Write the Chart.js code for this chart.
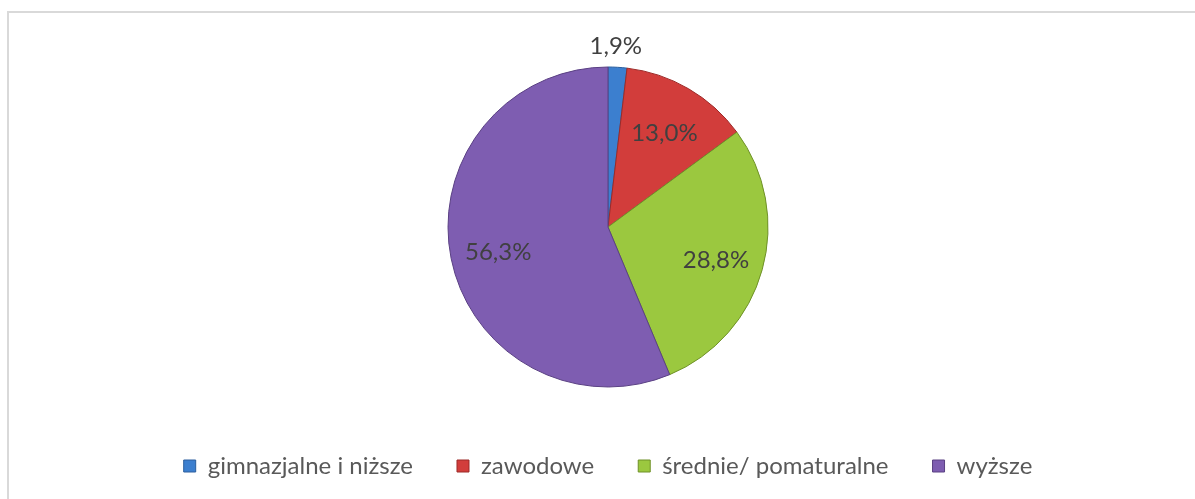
<!DOCTYPE html>
<html>
<head>
<meta charset="utf-8">
<script src="https://cdn.jsdelivr.net/npm/chart.js@4/dist/chart.umd.min.js"></script>
<style>
  html, body { margin: 0; padding: 0; background: #fff; }
  body { width: 1195px; height: 499px; position: relative; overflow: hidden; }
  .frame { position: absolute; left: 7px; top: 11px; width: 1300px; height: 600px;
           border: 2px solid #d9d9d9; box-sizing: border-box; }
  #wrap { position: absolute; left: 0; top: 0; width: 1195px; height: 499px; }
</style>
</head>
<body>
<div class="frame"></div>
<div id="wrap"><canvas id="myChart"></canvas></div>
<script>
const categories = ["gimnazjalne i niższe", "zawodowe", "średnie/ pomaturalne", "wyższe"];
const shares = [1.9, 13.0, 28.8, 56.3];
const sliceColors = ["#3c7fcf", "#d23d3b", "#9bc83f", "#7e5db1"];
const edgeColors = ["#2c5f9e", "#9c2a28", "#6f9128", "#5a4083"];

// etykiety procentowe na wycinkach
const sliceLabels = {
  id: "sliceLabels",
  afterDatasetsDraw(chart) {
    const ctx = chart.ctx;
    const meta = chart.getDatasetMeta(0);
    ctx.save();
    ctx.font = "24px Lato";
    ctx.fillStyle = "#404040";
    ctx.textAlign = "center";
    ctx.textBaseline = "middle";
    meta.data.forEach((arc, i) => {
      const mid = (arc.startAngle + arc.endAngle) / 2;
      const small = shares[i] < 5;
      const dist = small ? arc.outerRadius * 1.13 : arc.outerRadius * 0.7;
      const x = arc.x + Math.cos(mid) * dist + (small ? -3 : 0);
      const y = arc.y + Math.sin(mid) * dist + (small ? 0 : 3);
      ctx.fillText(shares[i].toFixed(1).replace(".", ",") + "%", x, y);
    });
    ctx.restore();
  },
};

const ctx = document.getElementById("myChart").getContext("2d");
new Chart(ctx, {
  type: "pie",
  data: {
    labels: categories,
    datasets: [
      {
        data: shares,
        backgroundColor: sliceColors,
        borderColor: edgeColors,
        borderWidth: 1,
        radius: 160,
      },
    ],
  },
  options: {
    responsive: true,
    maintainAspectRatio: false,
    animation: false,
    layout: { padding: { top: 44, left: 21, right: 0, bottom: 11 } },
    plugins: {
      tooltip: { enabled: false },
      legend: {
        position: "bottom",
        labels: {
          boxWidth: 12,
          boxHeight: 12,
          padding: 44,
          color: "#595959",
          font: { family: "Lato", size: 24 },
        },
      },
    },
  },
  plugins: [sliceLabels],
});
</script>
</body>
</html>
